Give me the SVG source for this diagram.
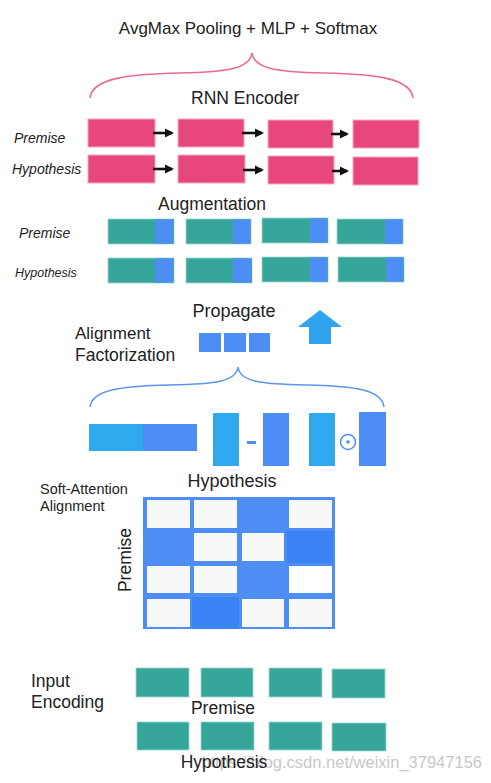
<svg xmlns="http://www.w3.org/2000/svg" width="491" height="783" viewBox="0 0 491 783">
<defs>
<style>
text{font-family:"Liberation Sans",Arial,sans-serif;fill:#222}
.it{font-style:italic}
.pink{fill:#e8477b;stroke:#f4a9c2;stroke-width:1}
.teal{fill:#37a69a;stroke:#9bd8d0;stroke-width:0.8}
.blue{fill:#4d8ef5}
.lblue{fill:#2fa9ee}
.cellw{fill:#f8f8f8}
.celld{fill:#3a82f6}
.arr{stroke:#111;stroke-width:2.6;fill:none;marker-end:url(#ah)}
</style>
<marker id="ah" markerWidth="10" markerHeight="10" refX="7" refY="5" orient="auto" markerUnits="userSpaceOnUse">
<path d="M0,0.5 L9,5 L0,9.5 z" fill="#111"/>
</marker>
</defs>
<rect width="491" height="783" fill="#ffffff"/>

<g id="title">
<text x="248" y="34" font-size="17" text-anchor="middle">AvgMax Pooling + MLP + Softmax</text>
<path d="M90,98 C92,78 130,74 180,73 C230,72 250,68 252,53 C254,68 274,72 324,73 C374,74 411,78 413,98" fill="none" stroke="#ea6a92" stroke-width="1.6"/>
</g>

<g id="rnn-encoder">
<text x="245" y="104" font-size="17.5" text-anchor="middle">RNN Encoder</text>
<text x="14" y="143" font-size="14" class="it">Premise</text>
<text x="12" y="174" font-size="14" class="it">Hypothesis</text>
<rect class="pink" x="88" y="119" width="67" height="28"/>
<rect class="pink" x="178" y="119" width="66" height="28"/>
<rect class="pink" x="268" y="120" width="65" height="28"/>
<rect class="pink" x="353" y="120" width="66" height="28"/>
<rect class="pink" x="88" y="155" width="67" height="28"/>
<rect class="pink" x="178" y="155" width="67" height="28"/>
<rect class="pink" x="268" y="156" width="66" height="28"/>
<rect class="pink" x="353" y="157" width="65" height="28"/>
</g>

<g id="connectors">
<line class="arr" x1="153" y1="133" x2="172" y2="133"/>
<line class="arr" x1="242" y1="133" x2="262" y2="133"/>
<line class="arr" x1="331" y1="134" x2="347" y2="134"/>
<line class="arr" x1="153" y1="169" x2="172" y2="169"/>
<line class="arr" x1="243" y1="170" x2="262" y2="170"/>
<line class="arr" x1="332" y1="171" x2="347" y2="171"/>
</g>

<g id="augmentation">
<text x="212" y="210" font-size="17.5" text-anchor="middle">Augmentation</text>
<text x="19" y="238" font-size="14" class="it">Premise</text>
<text x="15" y="277" font-size="12.5" class="it">Hypothesis</text>
<g>
<rect class="teal" x="108" y="219" width="66" height="25"/><rect class="blue" x="155" y="219.4" width="18.6" height="24.2"/>
<rect class="teal" x="186" y="219" width="65" height="25"/><rect class="blue" x="233" y="219.4" width="17.6" height="24.2"/>
<rect class="teal" x="262" y="218" width="66" height="25"/><rect class="blue" x="310" y="218.4" width="17.6" height="24.2"/>
<rect class="teal" x="337" y="219" width="66" height="25"/><rect class="blue" x="385" y="219.4" width="17.6" height="24.2"/>
<rect class="teal" x="108" y="258" width="66" height="25"/><rect class="blue" x="155" y="258.4" width="18.6" height="24.2"/>
<rect class="teal" x="186" y="258" width="66" height="25"/><rect class="blue" x="233" y="258.4" width="18.6" height="24.2"/>
<rect class="teal" x="262" y="257" width="66" height="25"/><rect class="blue" x="310" y="257.4" width="17.6" height="24.2"/>
<rect class="teal" x="338" y="257" width="66" height="25"/><rect class="blue" x="386" y="257.4" width="17.6" height="24.2"/>
</g>
</g>

<g id="propagate">
<text x="234" y="317" font-size="18" text-anchor="middle">Propagate</text>
<rect class="blue" x="199" y="333" width="22" height="19"/>
<rect class="blue" x="224" y="333" width="22" height="19"/>
<rect class="blue" x="249" y="333" width="21" height="19"/>
<path d="M320,310 L342,327 L331,327 L331,344 L309,344 L309,327 L298,327 z" fill="#2fa4ec"/>
</g>

<g id="alignment-factorization">
<text x="75" y="339" font-size="17">Alignment</text>
<text x="75" y="361" font-size="17.5">Factorization</text>
<path d="M90,407 C92,390 120,386 170,385 C215,384 236,382 238,367 C240,382 261,384 306,385 C356,386 382,390 384,407" fill="none" stroke="#5b95f2" stroke-width="1.5"/>
<rect class="lblue" x="89" y="424" width="54" height="27"/>
<rect class="blue" x="143" y="424" width="54" height="27"/>
<rect class="lblue" x="213" y="413" width="26" height="53"/>
<rect x="247" y="441" width="9" height="3" fill="#4d8ef5"/>
<rect class="blue" x="263" y="413" width="26" height="53"/>
<rect class="lblue" x="309" y="413" width="26" height="53"/>
<circle cx="348" cy="442" r="7.5" fill="none" stroke="#4d8ef5" stroke-width="1.5"/>
<circle cx="348" cy="442" r="1.8" fill="#4d8ef5"/>
<rect class="blue" x="359" y="412" width="27" height="54"/>
</g>

<g id="soft-attention">
<text x="40" y="494" font-size="14.5">Soft-Attention</text>
<text x="40" y="511" font-size="14.5">Alignment</text>
<text x="232" y="487" font-size="18" text-anchor="middle">Hypothesis</text>
<text transform="translate(131,560) rotate(-90)" font-size="17.5" text-anchor="middle">Premise</text>
<rect x="143" y="497" width="192" height="132" fill="#4d8ef5"/>
<rect class="cellw" x="147" y="500" width="43" height="28"/>
<rect class="cellw" x="194" y="500" width="43" height="28"/>
<rect class="cellw" x="289" y="500" width="43" height="28"/>
<rect class="cellw" x="194" y="533" width="43" height="28"/>
<rect class="cellw" x="242" y="533" width="42" height="28"/>
<rect class="celld" x="287" y="531" width="46" height="32"/>
<rect class="cellw" x="147" y="566" width="43" height="27"/>
<rect class="cellw" x="194" y="566" width="43" height="27"/>
<rect x="289" y="566" width="43" height="27" fill="#ffffff"/>
<rect class="cellw" x="147" y="599" width="43" height="28"/>
<rect class="celld" x="192" y="597" width="47" height="32"/>
<rect class="cellw" x="242" y="599" width="42" height="28"/>
<rect class="cellw" x="289" y="599" width="43" height="28"/>
</g>

<g id="input-encoding">
<text x="31" y="687" font-size="17.5">Input</text>
<text x="31" y="708" font-size="17.5">Encoding</text>
<rect class="teal" x="136" y="668" width="53" height="29"/>
<rect class="teal" x="201" y="668" width="52" height="29"/>
<rect class="teal" x="269" y="668" width="53" height="29"/>
<rect class="teal" x="332" y="669" width="53" height="29"/>
<text x="223" y="714" font-size="17.5" text-anchor="middle">Premise</text>
<rect class="teal" x="137" y="722" width="52" height="28"/>
<rect class="teal" x="201" y="722" width="53" height="28"/>
<rect class="teal" x="269" y="722" width="53" height="28"/>
<rect class="teal" x="332" y="723" width="54" height="28"/>
<text x="482" y="768" font-size="16.5" text-anchor="end" style="fill:#c8c8c8">https://blog.csdn.net/weixin_37947156</text>
<text x="224" y="768" font-size="17.5" text-anchor="middle">Hypothesis</text>
</g>
</svg>
